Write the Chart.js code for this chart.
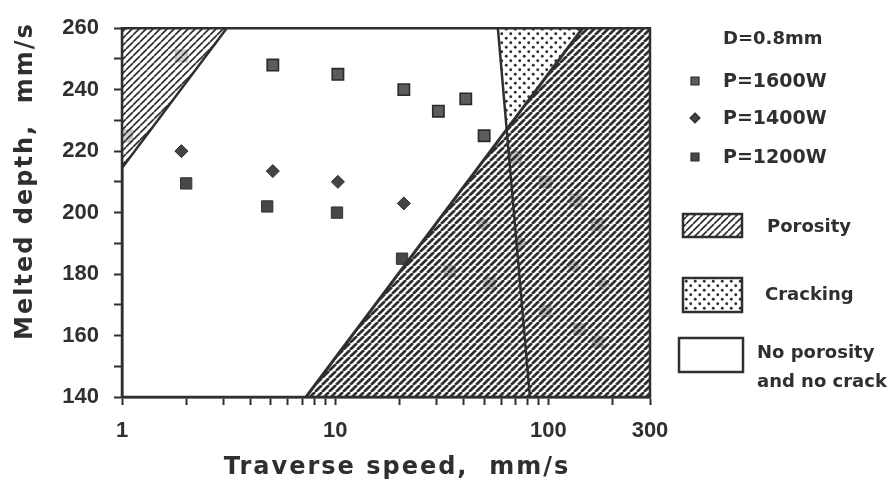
<!DOCTYPE html>
<html>
<head>
<meta charset="utf-8">
<title>Melted depth vs traverse speed</title>
<script src="https://cdn.jsdelivr.net/npm/chart.js@4.4.1/dist/chart.umd.min.js"></script>
<style>
  html, body { margin: 0; padding: 0; background: #ffffff; }
  #wrap { width: 889px; height: 486px; }
  canvas { display: block; }
</style>
</head>
<body>
<div id="wrap"><canvas id="chart" width="889" height="486"></canvas></div>
<script>
// ---- axis ticks ----
const speedTicks = [1, 2, 3, 4, 5, 6, 7, 8, 9, 10, 20, 30, 40, 50, 60, 70, 80, 90, 100, 200, 300];
const speedLabels = [1, 10, 100, 300];
const depthTicks = [140, 150, 160, 170, 180, 190, 200, 210, 220, 230, 240, 250, 260];
const depthLabels = [140, 160, 180, 200, 220, 240, 260];

// ---- measured points (traverse speed mm/s, melted depth) ----
const p1600Speed = [1.05, 1.9, 5.1, 10.3, 21, 30.5, 41, 50, 70, 97, 135, 170];
const p1600Depth = [225, 251, 248, 245, 240, 233, 237, 225, 218, 210, 204, 196];
const p1400Speed = [1.9, 5.1, 10.3, 21, 50, 74, 130, 180];
const p1400Depth = [220, 213.5, 210, 203, 196, 190, 183, 177];
const p1200Speed = [2, 4.8, 10.2, 20.6, 34.5, 53, 97, 140, 171];
const p1200Depth = [209.5, 202, 200, 185, 181, 177, 168, 162, 158];

// ---- process regions (polygon vertices in speed / depth units) ----
const porosityLowSpeed = [1, 3.1, 1];
const porosityLowDepth = [260, 260, 214.5];
const porosityHighSpeed = [7.3, 145, 300, 300];
const porosityHighDepth = [140, 260, 260, 140];
const crackingSpeed = [58, 145, 64];
const crackingDepth = [260, 260, 227];
const crackBoundarySpeed = [58, 82];
const crackBoundaryDepth = [260, 140];

const INK = '#2f2f2f';
const TICK_FONT = { family: '"Liberation Sans", Arial, sans-serif', size: 22, weight: 'bold' };
const TEXT_FONT = '"DejaVu Sans", "Liberation Sans", sans-serif';

const zip = (xs, ys) => xs.map((x, i) => ({ x: x, y: ys[i] }));

// diagonal "/" hatching; the light stripes are slightly see-through
function hatchPattern(ctx, period, lineW, light) {
  const c = document.createElement('canvas');
  c.width = c.height = period;
  const g = c.getContext('2d');
  g.fillStyle = light;
  g.fillRect(0, 0, period, period);
  g.strokeStyle = INK;
  g.lineWidth = lineW;
  for (const o of [-period, 0, period]) {
    g.beginPath();
    g.moveTo(o, period);
    g.lineTo(o + period, 0);
    g.stroke();
  }
  return ctx.createPattern(c, 'repeat');
}

function dotPattern(ctx, period, r) {
  const c = document.createElement('canvas');
  c.width = c.height = period;
  const g = c.getContext('2d');
  g.fillStyle = '#ffffff';
  g.fillRect(0, 0, period, period);
  g.fillStyle = INK;
  for (const [dx, dy] of [[period / 4, period / 4], [period * 3 / 4, period * 3 / 4]]) {
    g.beginPath();
    g.arc(dx, dy, r, 0, Math.PI * 2);
    g.fill();
  }
  return ctx.createPattern(c, 'repeat');
}

function polyPath(ctx, xs, ys, sx, sy) {
  ctx.beginPath();
  xs.forEach((v, i) => {
    const px = sx.getPixelForValue(v), py = sy.getPixelForValue(ys[i]);
    if (i === 0) ctx.moveTo(px, py); else ctx.lineTo(px, py);
  });
  ctx.closePath();
}

function segment(ctx, xs, ys, sx, sy, w) {
  ctx.beginPath();
  ctx.moveTo(sx.getPixelForValue(xs[0]), sy.getPixelForValue(ys[0]));
  for (let i = 1; i < xs.length; i++) ctx.lineTo(sx.getPixelForValue(xs[i]), sy.getPixelForValue(ys[i]));
  ctx.lineWidth = w;
  ctx.strokeStyle = INK;
  ctx.stroke();
}

// Hatched / dotted regions laid over the points, plus the frame
const regionsPlugin = {
  id: 'regions',
  afterDatasetsDraw(chart) {
    const { ctx, chartArea: a } = chart;
    const sx = chart.scales.x, sy = chart.scales.y;
    ctx.save();
    ctx.beginPath();
    ctx.rect(a.left, a.top, a.right - a.left, a.bottom - a.top);
    ctx.clip();

    polyPath(ctx, porosityLowSpeed, porosityLowDepth, sx, sy);
    ctx.fillStyle = hatchPattern(ctx, 7, 1.7, 'rgba(255,255,255,0.72)');
    ctx.fill();

    polyPath(ctx, porosityHighSpeed, porosityHighDepth, sx, sy);
    ctx.fillStyle = hatchPattern(ctx, 7, 2.7, 'rgba(255,255,255,0.66)');
    ctx.fill();

    polyPath(ctx, crackingSpeed, crackingDepth, sx, sy);
    ctx.fillStyle = dotPattern(ctx, 9, 1.45);
    ctx.fill();

    segment(ctx, [porosityLowSpeed[1], porosityLowSpeed[2]], [porosityLowDepth[1], porosityLowDepth[2]], sx, sy, 2.5);
    segment(ctx, [porosityHighSpeed[0], porosityHighSpeed[1]], [porosityHighDepth[0], porosityHighDepth[1]], sx, sy, 3);
    segment(ctx, crackBoundarySpeed, crackBoundaryDepth, sx, sy, 2.5);
    ctx.restore();

    // frame
    ctx.save();
    ctx.strokeStyle = INK;
    ctx.lineWidth = 2.5;
    ctx.beginPath();
    ctx.moveTo(a.left, a.bottom);
    ctx.lineTo(a.left, a.top);
    ctx.lineTo(a.right, a.top);
    ctx.lineTo(a.right, a.bottom);
    ctx.lineTo(a.left, a.bottom);
    ctx.stroke();
    ctx.restore();
  }
};

// Axis titles
const titlesPlugin = {
  id: 'axisTitles',
  afterDraw(chart) {
    const { ctx } = chart;
    ctx.save();
    ctx.fillStyle = INK;
    ctx.textAlign = 'center';
    ctx.textBaseline = 'middle';
    ctx.font = 'bold 24px ' + TEXT_FONT;
    ctx.letterSpacing = '2px';
    ctx.fillText('Traverse speed,  mm/s', 397, 468);
    ctx.translate(26, 181);
    ctx.rotate(-Math.PI / 2);
    ctx.fillText('Melted depth,  mm/s', 0, 0);
    ctx.restore();
  }
};

// Legend block at the right
const legendPlugin = {
  id: 'sideLegend',
  afterDraw(chart) {
    const { ctx } = chart;
    const ds = chart.data.datasets;
    ctx.save();
    ctx.fillStyle = INK;
    ctx.textBaseline = 'middle';
    ctx.textAlign = 'left';
    ctx.font = 'bold 18px ' + TEXT_FONT;
    ctx.fillText('D=0.8mm', 723, 39);

    const rows = [81, 118, 157];
    ds.forEach((d, i) => {
      const y = rows[i];
      ctx.fillStyle = d.backgroundColor;
      ctx.strokeStyle = d.borderColor;
      ctx.lineWidth = 1.2;
      ctx.beginPath();
      if (d.pointStyle === 'rectRot') {
        ctx.moveTo(695, y - 5); ctx.lineTo(700, y); ctx.lineTo(695, y + 5); ctx.lineTo(690, y); ctx.closePath();
      } else {
        ctx.rect(691, y - 4, 8, 8);
      }
      ctx.fill(); ctx.stroke();
      ctx.fillStyle = INK;
      ctx.font = 'bold 19px ' + TEXT_FONT;
      ctx.fillText(d.label, 723, y + 1);
    });

    ctx.lineWidth = 2.5;
    ctx.strokeStyle = INK;
    ctx.fillStyle = hatchPattern(ctx, 7, 1.7, '#ffffff');
    ctx.fillRect(683, 214, 59, 23);
    ctx.strokeRect(683, 214, 59, 23);
    ctx.fillStyle = dotPattern(ctx, 9, 1.45);
    ctx.fillRect(683, 278, 59, 34);
    ctx.strokeRect(683, 278, 59, 34);
    ctx.fillStyle = '#ffffff';
    ctx.fillRect(679, 338, 64, 34);
    ctx.strokeRect(679, 338, 64, 34);

    ctx.fillStyle = INK;
    ctx.font = 'bold 18px ' + TEXT_FONT;
    ctx.fillText('Porosity', 767, 227);
    ctx.fillText('Cracking', 765, 295);
    ctx.fillText('No porosity', 757, 353);
    ctx.fillText('and no crack', 757, 382);
    ctx.restore();
  }
};

new Chart(document.getElementById('chart'), {
  type: 'scatter',
  data: {
    datasets: [
      { label: 'P=1600W', data: zip(p1600Speed, p1600Depth), pointStyle: 'rect', pointRadius: 8,
        backgroundColor: '#5c5c5c', borderColor: '#2a2a2a', borderWidth: 1.6 },
      { label: 'P=1400W', data: zip(p1400Speed, p1400Depth), pointStyle: 'rectRot', pointRadius: 6.5,
        backgroundColor: '#444444', borderColor: '#2a2a2a', borderWidth: 1 },
      { label: 'P=1200W', data: zip(p1200Speed, p1200Depth), pointStyle: 'rect', pointRadius: 8,
        backgroundColor: '#474747', borderColor: '#333333', borderWidth: 1 }
    ]
  },
  options: {
    responsive: false,
    animation: false,
    events: [],
    layout: { padding: { left: 0, right: 239, top: 20, bottom: 0 } },
    plugins: { legend: { display: false }, tooltip: { enabled: false } },
    scales: {
      x: {
        type: 'logarithmic',
        min: 1,
        max: 300,
        afterBuildTicks: s => { s.ticks = speedTicks.map(v => ({ value: v })); },
        afterFit: s => { s.height = 89; },
        ticks: {
          autoSkip: false, maxRotation: 0, minRotation: 0,
          callback: v => (speedLabels.includes(v) ? String(v) : ''),
          font: TICK_FONT, color: INK, padding: 13
        },
        grid: { drawOnChartArea: false, tickLength: 8, tickColor: INK, tickWidth: 2 },
        border: { color: INK, width: 2.5 }
      },
      y: {
        min: 140,
        max: 260,
        afterBuildTicks: s => { s.ticks = depthTicks.map(v => ({ value: v })); },
        afterFit: s => { s.width = 122; },
        ticks: {
          autoSkip: false,
          callback: v => (depthLabels.includes(v) ? String(v) : ''),
          font: TICK_FONT, color: INK, padding: 15
        },
        grid: { drawOnChartArea: false, tickLength: 8, tickColor: INK, tickWidth: 2 },
        border: { color: INK, width: 2.5 }
      }
    }
  },
  plugins: [regionsPlugin, titlesPlugin, legendPlugin]
});
</script>
</body>
</html>
